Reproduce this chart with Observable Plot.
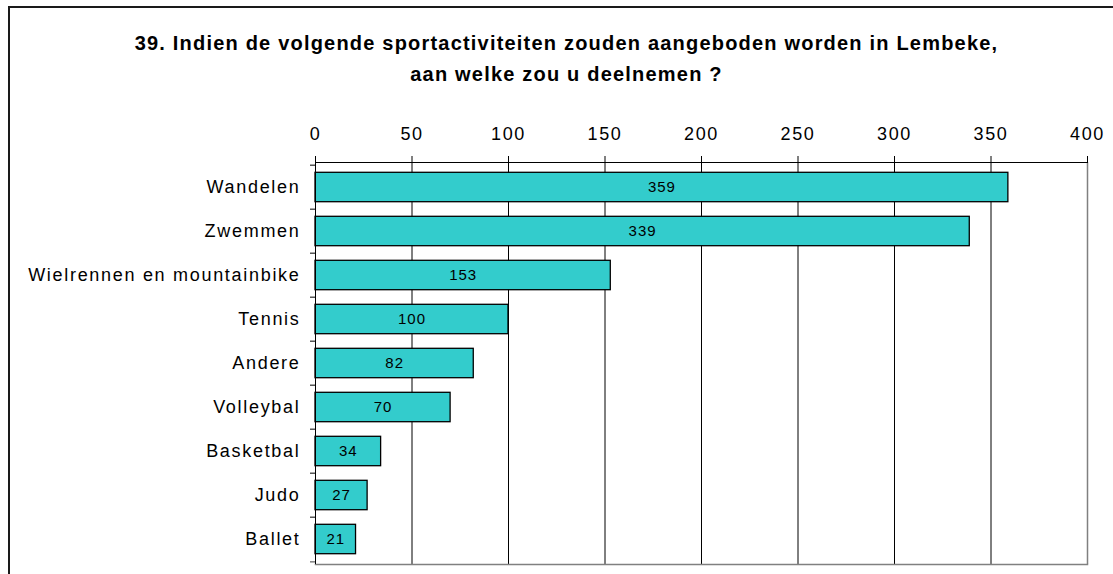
<!DOCTYPE html>
<html>
<head>
<meta charset="utf-8">
<script src="https://cdn.jsdelivr.net/npm/d3@7"></script>
<script src="https://cdn.jsdelivr.net/npm/@observablehq/plot@0.6"></script>
<style>
  html, body { margin: 0; padding: 0; background: #fff; }
  #wrap { position: relative; width: 1113px; height: 574px; overflow: hidden; background: #fff; font-family: "Liberation Sans", Arial, sans-serif; }
  #border { position: absolute; left: 8px; top: 6px; width: 3000px; height: 3000px; border-left: 2px solid #1a1a1a; border-top: 2px solid #1a1a1a; }
  #title { position: absolute; left: 0; top: 28px; width: 1133px; text-align: center; font-weight: bold; font-size: 20px; line-height: 31px; letter-spacing: 1.2px; color: #000; }
  #chart { position: absolute; left: 0; top: 0; }
</style>
</head>
<body>
<div id="wrap">
  <div id="border"></div>
  <div id="chart"></div>
  <div id="title">39. Indien de volgende sportactiviteiten zouden aangeboden worden in Lembeke,<br>aan welke zou u deelnemen ?</div>
</div>
<script>
const categories = ["Wandelen", "Zwemmen", "Wielrennen en mountainbike", "Tennis", "Andere", "Volleybal", "Basketbal", "Judo", "Ballet"];
const values = [359, 339, 153, 100, 82, 70, 34, 27, 21];
const xTicks = [0, 50, 100, 150, 200, 250, 300, 350, 400];

const data = categories.map((c, i) => ({cat: c, value: values[i]}));

const W = 1113, H = 574, mTop = 162, mBottom = 10, mLeft = 315, mRight = 26;
const step = (H - mTop - mBottom) / categories.length;

const chart = Plot.plot({
  width: W,
  height: H,
  marginLeft: mLeft,
  marginRight: mRight,
  marginTop: mTop,
  marginBottom: mBottom,
  style: {background: "transparent", fontFamily: "'Liberation Sans', Arial, sans-serif", color: "#000"},
  x: {domain: [xTicks[0], xTicks[xTicks.length - 1]], axis: null},
  y: {domain: categories, padding: 0, axis: null},
  marks: [
    Plot.ruleX(xTicks.slice(1, -1), {stroke: "#000", strokeWidth: 1}),
    Plot.ruleX([xTicks[xTicks.length - 1]], {stroke: "#808080", strokeWidth: 1.5}),
    Plot.frame({anchor: "bottom", stroke: "#808080", strokeWidth: 1.5}),
    Plot.ruleY(categories, {y: d => d, x1: 0, x2: 0, insetLeft: -5, dy: -step / 2, stroke: "#000"}),
    Plot.ruleY(categories.slice(-1), {y: d => d, x1: 0, x2: 0, insetLeft: -5, dy: step / 2, stroke: "#808080", strokeWidth: 1.5}),
    Plot.barX(data, {x: "value", y: "cat", fill: "#33CCCC", stroke: "#000", strokeWidth: 1.3, insetTop: 7.3, insetBottom: 7.3}),
    Plot.text(data, {x: d => d.value / 2, y: "cat", text: d => String(d.value), fontSize: 15, fill: "#000"}),
    Plot.ruleX([xTicks[0]], {stroke: "#000", strokeWidth: 1}),
    Plot.frame({anchor: "top", stroke: "#000", strokeWidth: 1}),
    Plot.axisX({anchor: "top", ticks: xTicks, tickSize: 7, tickPadding: 16, fontSize: 18, tickFormat: d => String(d), stroke: "#000", label: null}),
    Plot.axisY({tickSize: 0, tickPadding: 15, fontSize: 18, label: null})
  ]
});

document.getElementById("chart").appendChild(chart);
const svg = d3.select(chart);
svg.selectAll('g[aria-label="x-axis tick label"] text').attr("letter-spacing", "1.6px");
svg.selectAll('g[aria-label="y-axis tick label"] text').attr("letter-spacing", "1.7px");
svg.selectAll('g[aria-label="text"] text').attr("letter-spacing", "1px");
</script>
</body>
</html>
